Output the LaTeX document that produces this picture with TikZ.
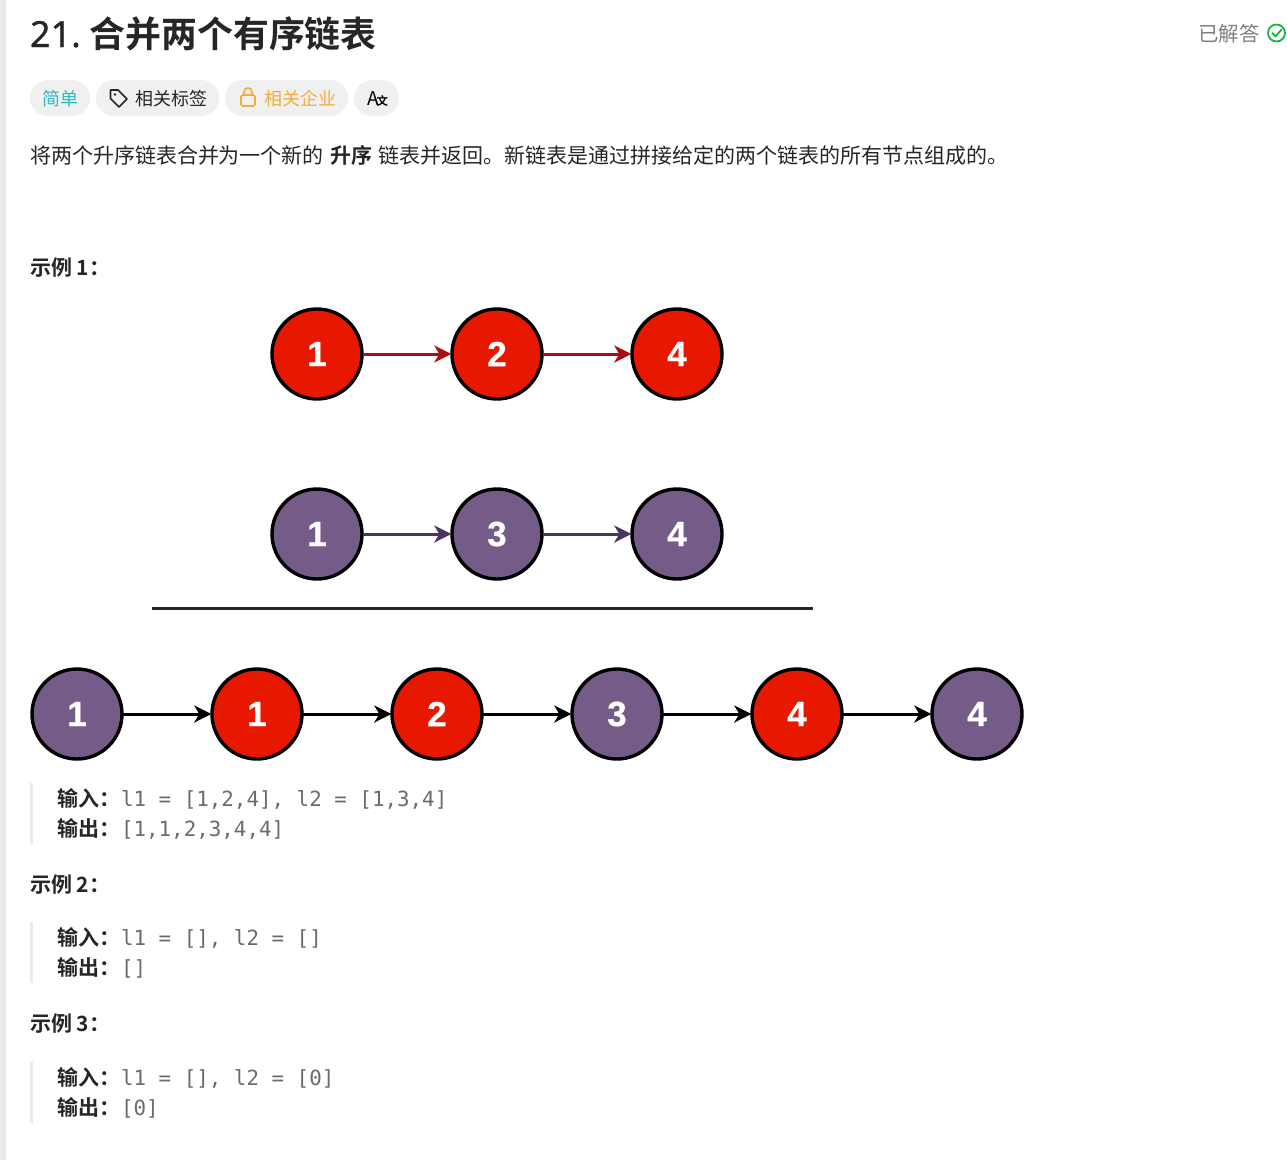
\documentclass[tikz,border=0pt]{standalone}
\usepackage{fontspec}
\setmainfont{Noto Sans CJK SC}[BoldFont={Noto Sans CJK SC Bold}]
\newfontfamily\latinfont{Noto Sans}[FakeBold=0.8]
\newfontfamily\digitfont{Liberation Sans Bold}[FakeBold=0.6]
\newfontfamily\monofont{DejaVu Sans Mono}
\usetikzlibrary{arrows.meta}
\definecolor{ink}{HTML}{262626}
\definecolor{chip}{HTML}{F0F0F0}
\definecolor{redfill}{HTML}{E81800}
\definecolor{redline}{HTML}{A80F14}
\definecolor{purplefill}{HTML}{755C88}
\definecolor{purpleline}{HTML}{4B3560}
\definecolor{codegrey}{HTML}{6B6B6B}
\definecolor{teal}{HTML}{2DB8C0}
\definecolor{amber}{HTML}{F2AE3D}
\definecolor{donegreen}{HTML}{12B83A}
\definecolor{barcol}{HTML}{EAEAEA}
\newcommand{\dg}[1]{\raisebox{-1.2pt}{#1}}
\tikzset{
  x=1pt,y=-1pt,
  ball/.style={circle,draw=black,line width=3.4pt,minimum size=90pt,inner sep=0pt,text=white,font=\fontsize{35}{35}\selectfont\digitfont},
  redball/.style={ball,fill=redfill},
  purpleball/.style={ball,fill=purplefill},
  link/.style={-{Stealth[length=17pt,width=17pt,inset=5pt]},line width=3pt,shorten >=-1pt,shorten <=-1pt},
  redlink/.style={link,draw=redline},
  purplelink/.style={link,draw=purpleline},
  blacklink/.style={link,draw=black},
  txt/.style={anchor=base west,inner sep=0pt,outer sep=0pt,text=ink},
  body/.style={txt,font=\fontsize{21}{24}\selectfont},
  head/.style={txt,font=\fontsize{21}{24}\selectfont\bfseries},
  lab/.style={txt,font=\fontsize{21}{24}\selectfont\bfseries},
  code/.style={txt,text=codegrey,font=\fontsize{20.85}{24}\selectfont\monofont},
  chipbox/.style={fill=chip,rounded corners=18pt,draw=none},
  chiptxt/.style={txt,font=\fontsize{18}{22}\selectfont},
  bar/.style={fill=barcol,draw=none}
}
\begin{document}
\begin{tikzpicture}
\useasboundingbox (0,0) rectangle (1287,1160);
\fill[white] (0,0) rectangle (1287,1160);
\fill[barcol] (0,0) rectangle (6,1160);
% title
\node[txt,font=\fontsize{36}{40}\selectfont] (t1) at (30,47) {\latinfont 21.};
\node[txt,font=\fontsize{35.9}{40}\selectfont\bfseries] (t2) at (89.5,47) {合并两个有序链表};
\node[txt,text=gray,font=\fontsize{20.5}{24}\selectfont] (done) at (1198,41) {已解答};
\draw[donegreen,line width=1.8pt] (1276.5,33) circle (8.5pt);
\draw[donegreen,line width=1.8pt,line cap=round,line join=round] (1272.5,33) -- (1275.5,36.5) -- (1281.5,29.5);
% chips
\fill[chipbox] (30,80) rectangle (90,116);
\node[chiptxt,text=teal] (c1) at (42,105) {简单};
\fill[chipbox] (96,80) rectangle (219,116);
\draw[ink,line width=1.7pt,line join=round] (110.5,90) -- (118,90) -- (127,99) -- (119,107) -- (110.5,98.5) -- cycle;
\fill[ink] (115,94.5) circle (1.3pt);
\node[chiptxt] (c2) at (135,105) {相关标签};
\fill[chipbox] (225,80) rectangle (348,116);
\draw[amber,line width=1.7pt,rounded corners=1.5pt] (241,95) rectangle (255,106);
\draw[amber,line width=1.7pt] (244,95) -- (244,92) arc (180:0:4pt) -- (252,95);
\node[chiptxt,text=amber] (c3) at (264,105) {相关企业};
\fill[chipbox] (354,80) rectangle (399,116);
\node[txt,text=black,font=\fontsize{19}{22}\selectfont] (c4) at (367,105) {A};
\node[txt,text=black,font=\fontsize{11.5}{22}\selectfont\bfseries] (c5) at (376.5,105.5) {文};
% description
\node[body] (d1) at (30,163.7) {将两个升序链表合并为一个新的};
\node[head] (d2) at (330,163.7) {升序};
\node[body] (d3) at (378,163.7) {链表并返回。新链表是通过拼接给定的两个链表的所有节点组成的。};
\node[head] (e1) at (30,275) {示例 1：};
% list 1
\node[redball] (a1) at (317,354) {\dg{1}};
\node[redball] (a2) at (497,354) {\dg{2}};
\node[redball] (a3) at (677,354) {\dg{4}};
\draw[redlink] (a1) -- (a2);
\draw[redlink] (a2) -- (a3);
% list 2
\node[purpleball] (b1) at (317,534) {\dg{1}};
\node[purpleball] (b2) at (497,534) {\dg{3}};
\node[purpleball] (b3) at (677,534) {\dg{4}};
\draw[purplelink] (b1) -- (b2);
\draw[purplelink] (b2) -- (b3);
% rule
\coordinate (r1) at (152,608.5);
\coordinate (r2) at (813,608.5);
\draw[line width=3.4pt,color=ink] (r1) -- (r2);
% merged
\node[purpleball] (m1) at (77,714) {\dg{1}};
\node[redball] (m2) at (257,714) {\dg{1}};
\node[redball] (m3) at (437,714) {\dg{2}};
\node[purpleball] (m4) at (617,714) {\dg{3}};
\node[redball] (m5) at (797,714) {\dg{4}};
\node[purpleball] (m6) at (977,714) {\dg{4}};
\foreach \p/\q in {m1/m2,m2/m3,m3/m4,m4/m5,m5/m6}{\draw[blacklink] (\p) -- (\q);}
% example 1
\fill[bar] (30,783) rectangle (33,844);
\node[lab] (i1) at (57,806) {输入：};
\node[code] (i1c) at (121,806) {l1 = [1,2,4], l2 = [1,3,4]};
\node[lab] (o1) at (57,836) {输出：};
\node[code] (o1c) at (121,836) {[1,1,2,3,4,4]};
\node[head] (e2) at (30,892) {示例 2：};
% example 2
\fill[bar] (30,922) rectangle (33,983);
\node[lab] (i2) at (57,945) {输入：};
\node[code] (i2c) at (121,945) {l1 = [], l2 = []};
\node[lab] (o2) at (57,975) {输出：};
\node[code] (o2c) at (121,975) {[]};
\node[head] (e3) at (30,1031) {示例 3：};
% example 3
\fill[bar] (30,1062) rectangle (33,1123);
\node[lab] (i3) at (57,1085) {输入：};
\node[code] (i3c) at (121,1085) {l1 = [], l2 = [0]};
\node[lab] (o3) at (57,1115) {输出：};
\node[code] (o3c) at (121,1115) {[0]};
\end{tikzpicture}
\end{document}
